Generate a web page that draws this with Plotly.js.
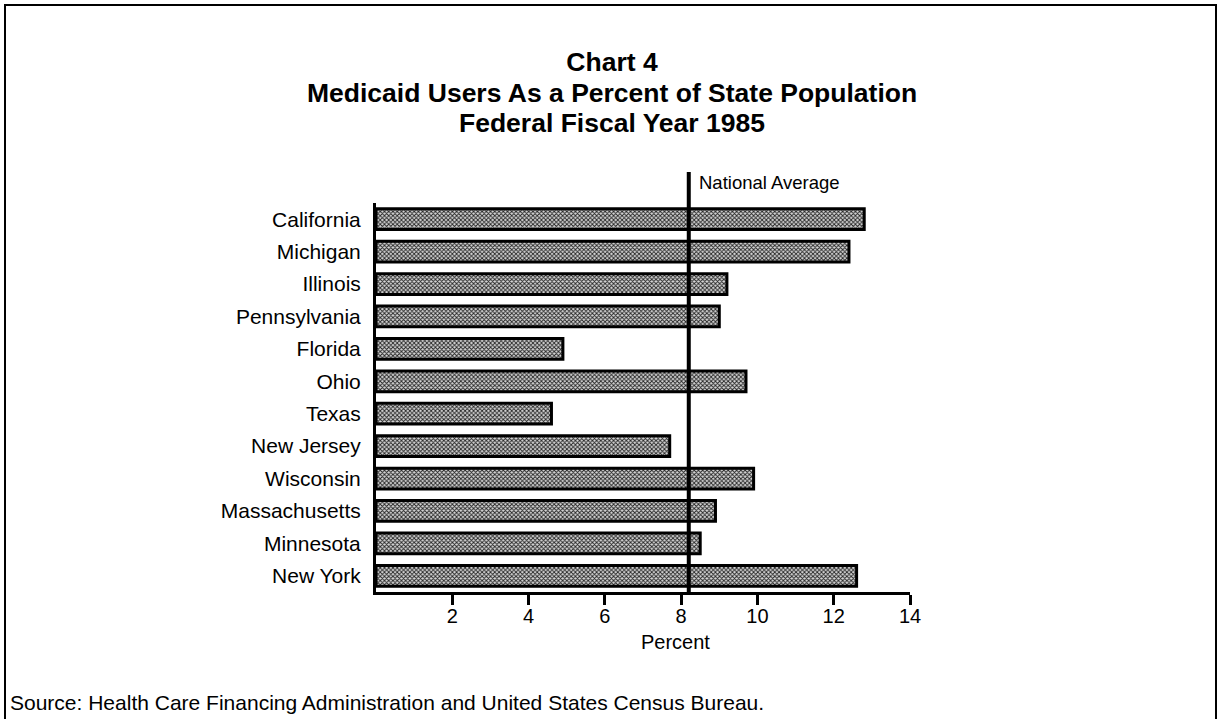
<!DOCTYPE html>
<html>
<head>
<meta charset="utf-8">
<script src="https://cdn.plot.ly/plotly-3.0.1.min.js"></script>
<style>
  html, body { margin: 0; padding: 0; background: #fff; overflow: hidden; }
  #frame { position: absolute; left: 4px; top: 4px; width: 1213px; height: 740px;
           border: 2px solid #000; box-sizing: border-box; pointer-events: none; }
  #chart { position: absolute; left: 0; top: 0; width: 1222px; height: 719px; }
</style>
</head>
<body>
<div id="chart"></div>
<div id="frame"></div>
<script>
// States, top to bottom
const states = ["California", "Michigan", "Illinois", "Pennsylvania", "Florida", "Ohio",
                "Texas", "New Jersey", "Wisconsin", "Massachusetts", "Minnesota", "New York"];
// Medicaid users as a percent of state population, FFY 1985
const percentUsers = [12.8, 12.4, 9.2, 9.0, 4.9, 9.7, 4.6, 7.7, 9.9, 8.9, 8.5, 12.6];
const nationalAverage = 8.2;
const xTicks = [2, 4, 6, 8, 10, 12, 14];
const titleLines = ["Chart 4",
                    "Medicaid Users As a Percent of State Population",
                    "Federal Fiscal Year 1985"];

const W = 1222, H = 719;
const M = { l: 376, r: 312, t: 203, b: 127 };
const plotW = W - M.l - M.r, plotH = H - M.t - M.b;
// pixel position -> paper fraction
const px = x => (x - M.l) / plotW;
const py = y => (H - M.b - y) / plotH;

const FONT = "Liberation Sans, Arial, Helvetica, sans-serif";
const TITLE_SIZE = 26.5;

const trace = {
  type: "bar",
  orientation: "h",
  y: states,
  x: percentUsers,
  width: 0.64,
  marker: {
    color: "#ffffff",
    line: { color: "#000000", width: 3 },
    pattern: { shape: "x", fgcolor: "#222222", bgcolor: "#d6d6d6", size: 3, solidity: 0.5 }
  },
  hoverinfo: "x+y"
};

// subtitle lines sit below the main title, one per row
const subtitleAnnotations = titleLines.slice(1).map((line, i) => ({
  text: "<b>" + line + "</b>",
  xref: "paper", yref: "paper",
  x: px(612), xanchor: "center",
  y: py(93 + i * 30.5), yanchor: "middle",
  showarrow: false,
  font: { family: FONT, size: TITLE_SIZE, color: "#000" }
}));

const layout = {
  width: W, height: H,
  margin: M,
  paper_bgcolor: "rgba(0,0,0,0)",
  plot_bgcolor: "rgba(0,0,0,0)",
  showlegend: false,
  font: { family: FONT, color: "#000" },
  title: {
    text: "<b>" + titleLines[0] + "</b>",
    font: { family: FONT, size: TITLE_SIZE, color: "#000" },
    xref: "container", x: 612 / W, xanchor: "center",
    yref: "container", y: 1 - 62 / H, yanchor: "middle"
  },
  xaxis: {
    range: [0, 14],
    tickvals: xTicks,
    ticktext: xTicks.map(String),
    ticks: "outside", ticklen: 10, tickwidth: 3, tickcolor: "#000",
    ticklabelstandoff: -6,
    showline: true, linecolor: "#000", linewidth: 3,
    showgrid: false, zeroline: false,
    tickfont: { family: FONT, size: 20, color: "#000" },
    fixedrange: true
  },
  yaxis: {
    type: "category",
    autorange: false,
    range: [11.5, -0.5],
    categoryorder: "array", categoryarray: states,
    ticks: "",
    ticklabelstandoff: 8,
    showline: true, linecolor: "#000", linewidth: 3,
    showgrid: false, zeroline: false,
    tickfont: { family: FONT, size: 21, color: "#000" },
    fixedrange: true
  },
  shapes: [{
    type: "line", xref: "x", yref: "paper",
    x0: nationalAverage, x1: nationalAverage, y0: 0, y1: py(172),
    line: { color: "#000", width: 4 }
  }],
  annotations: subtitleAnnotations.concat([
    {
      text: "National Average", xref: "x", yref: "paper",
      x: nationalAverage, xshift: 8, xanchor: "left",
      y: py(183), yanchor: "middle", showarrow: false,
      font: { family: FONT, size: 18.5, color: "#000" }
    },
    {
      text: "Percent", xref: "paper", yref: "paper",
      x: px(675), xanchor: "center", y: py(642), yanchor: "middle", showarrow: false,
      font: { family: FONT, size: 20, color: "#000" }
    },
    {
      text: "Source: Health Care Financing Administration and United States Census Bureau.",
      xref: "paper", yref: "paper",
      x: px(8), xanchor: "left", y: py(702), yanchor: "middle", showarrow: false,
      font: { family: FONT, size: 21, color: "#000" }
    }
  ])
};

Plotly.newPlot("chart", [trace], layout, { displayModeBar: false, staticPlot: true });
</script>
</body>
</html>
